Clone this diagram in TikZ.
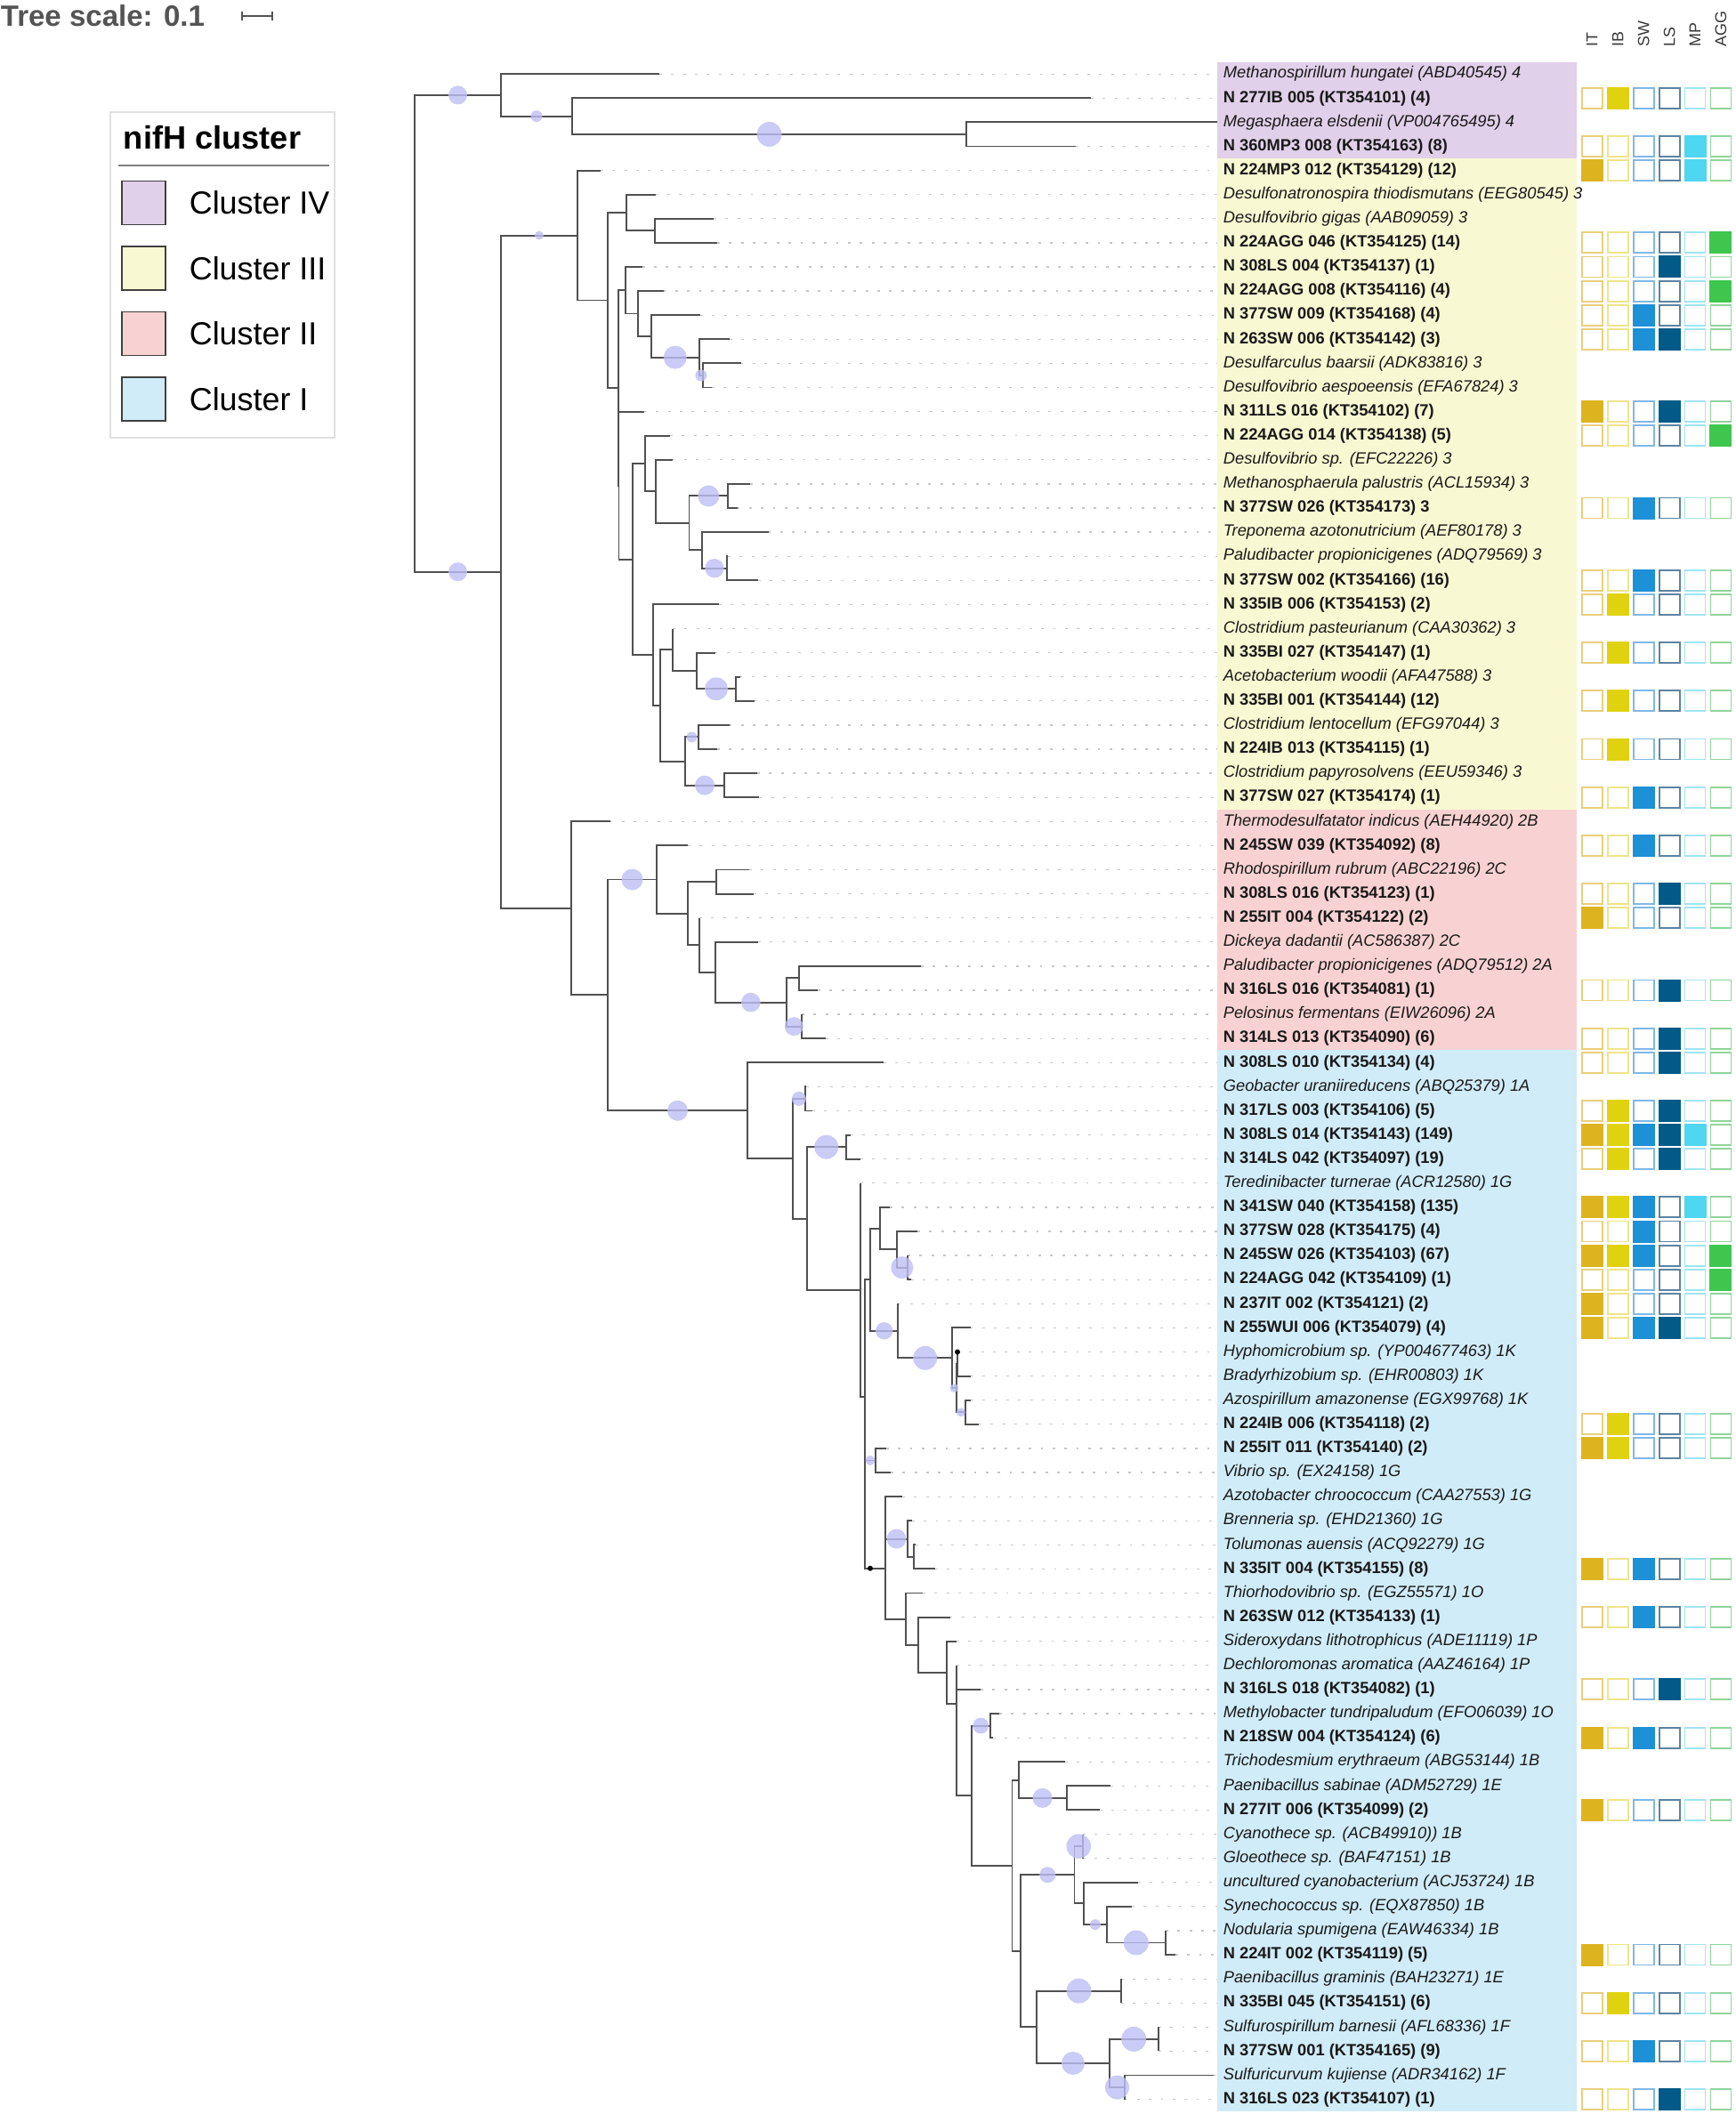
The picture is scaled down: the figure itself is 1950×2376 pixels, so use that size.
\documentclass[tikz,border=0pt]{standalone}
\usepackage{fontspec}
\setmainfont{Liberation Sans}
\usetikzlibrary{calc}
\definecolor{branchgray}{RGB}{80,80,80}
\definecolor{bubblecol}{RGB}{190,190,245}
\definecolor{c4}{RGB}{225,208,234}
\definecolor{c3}{RGB}{248,248,210}
\definecolor{c2}{RGB}{248,210,210}
\definecolor{c1}{RGB}{208,236,248}
\definecolor{hm1}{RGB}{221,180,31}
\definecolor{hm2}{RGB}{225,210,15}
\definecolor{hm3}{RGB}{29,144,214}
\definecolor{hm4}{RGB}{2,90,136}
\definecolor{hm5}{RGB}{79,214,240}
\definecolor{hm6}{RGB}{62,198,78}
\definecolor{hl1}{RGB}{233,207,122}
\definecolor{hl2}{RGB}{238,228,138}
\definecolor{hl3}{RGB}{127,184,230}
\definecolor{hl4}{RGB}{92,132,163}
\definecolor{hl5}{RGB}{159,228,242}
\definecolor{hl6}{RGB}{143,213,154}
\newcommand{\lf}{\fontsize{5.2}{6.2}\selectfont}
\newcommand{\leafy}[1]{83.2+(#1-1)*27.1}
\tikzset{every picture/.style={line width=0.5pt}}
\tikzstyle{branch}=[draw=branchgray,line width=0.55pt]
\tikzstyle{leader}=[draw=black!22,line width=0.35pt,dash pattern=on 0.8pt off 3pt]
\tikzstyle{bubble}=[fill=bubblecol,fill opacity=0.8]
\tikzstyle{lab}=[anchor=west,inner xsep=1.7pt,inner ysep=0pt,text=black!90]
\tikzstyle{rlab}=[lab,font=\lf\itshape]
\tikzstyle{elab}=[lab,font=\lf\bfseries]
\tikzstyle{hdr}=[anchor=west,rotate=90,inner sep=0pt,text=black!78,font=\fontsize{5.1}{6}\selectfont]
\tikzstyle{swatch}=[draw=black!75,line width=0.4pt,minimum size=0.49cm,inner sep=0pt]
\tikzstyle{leglab}=[anchor=west,inner sep=0pt,font=\fontsize{10.2}{12}\selectfont]
\newcommand{\hrow}[2]{%
  \foreach \v [count=\c] in {#2}{%
    \pgfmathsetmacro{\hx}{1789.2+(\c-1)*28.95}%
    \pgfmathsetmacro{\hy}{\leafy{#1}}%
    \ifnum\v=1
      \fill[fill=hm\c] (\hx-12.5,\hy-12.5) rectangle (\hx+12.5,\hy+12.5);
    \else
      \draw[draw=hl\c,line width=0.55pt] (\hx-11.5,\hy-11.5) rectangle (\hx+11.5,\hy+11.5);
    \fi}}
\newcommand{\rtip}[3]{%
  \coordinate (t#1) at (#2,{\leafy{#1}});
  \node[rlab] (l#1) at (1368,{\leafy{#1}}) {#3};
  \draw[leader] (t#1) -- (l#1.west);}
\newcommand{\etip}[4]{%
  \coordinate (t#1) at (#2,{\leafy{#1}});
  \node[elab] (l#1) at (1368,{\leafy{#1}}) {#3};
  \draw[leader] (t#1) -- (l#1.west);
  \hrow{#1}{#4}}
\newcommand{\clade}[4]{%
  \path (#3) -- (#4) coordinate[pos=0.5] (#1m);
  \coordinate (#1) at (#2,0 |- #1m);
  \draw[branch] (#3) -| (#1) |- (#4);}
\newcommand{\boot}[3]{\fill[bubble] ($(#1 |- #2)!0.5!(#2)$) circle[radius=#3*0.1mm];}

\begin{document}
\begin{tikzpicture}[x=0.01cm,y=-0.01cm]
\useasboundingbox (0,0) rectangle (1950,2376);
\fill[c4] (1368,69.65) rectangle (1772,178.05);
\fill[c3] (1368,178.05) rectangle (1772,909.75);
\fill[c2] (1368,909.75) rectangle (1772,1180.45);
\fill[c1] (1368,1180.45) rectangle (1772,2373);

\rtip{1}{741}{Methanospirillum hungatei (ABD40545) 4}
\etip{2}{1226}{N 277IB 005 (KT354101) (4)}{0,1,0,0,0,0}
\rtip{3}{1368}{Megasphaera elsdenii (VP004765495) 4}
\etip{4}{1209}{N 360MP3 008 (KT354163) (8)}{0,0,0,0,1,0}
\etip{5}{675}{N 224MP3 012 (KT354129) (12)}{1,0,0,0,1,0}
\rtip{6}{736.6}{Desulfonatronospira thiodismutans (EEG80545) 3}
\rtip{7}{802}{Desulfovibrio gigas (AAB09059) 3}
\etip{8}{806}{N 224AGG 046 (KT354125) (14)}{0,0,0,0,0,1}
\etip{9}{721.7}{N 308LS 004 (KT354137) (1)}{0,0,0,1,0,0}
\etip{10}{745.5}{N 224AGG 008 (KT354116) (4)}{0,0,0,0,0,1}
\etip{11}{787}{N 377SW 009 (KT354168) (4)}{0,0,1,0,0,0}
\etip{12}{820}{N 263SW 006 (KT354142) (3)}{0,0,1,1,0,0}
\rtip{13}{832.6}{Desulfarculus baarsii (ADK83816) 3}
\rtip{14}{800}{Desulfovibrio aespoeensis (EFA67824) 3}
\etip{15}{724}{N 311LS 016 (KT354102) (7)}{1,0,0,1,0,0}
\etip{16}{753}{N 224AGG 014 (KT354138) (5)}{0,0,0,0,0,1}
\rtip{17}{755.5}{Desulfovibrio sp. (EFC22226) 3}
\rtip{18}{843}{Methanosphaerula palustris (ACL15934) 3}
\etip{19}{828.5}{N 377SW 026 (KT354173) 3}{0,0,1,0,0,0}
\rtip{20}{863.5}{Treponema azotonutricium (AEF80178) 3}
\rtip{21}{818}{Paludibacter propionicigenes (ADQ79569) 3}
\etip{22}{852}{N 377SW 002 (KT354166) (16)}{0,0,1,0,0,0}
\etip{23}{807.7}{N 335IB 006 (KT354153) (2)}{0,1,0,0,0,0}
\rtip{24}{756}{Clostridium pasteurianum (CAA30362) 3}
\etip{25}{803.6}{N 335BI 027 (KT354147) (1)}{0,1,0,0,0,0}
\rtip{26}{831.5}{Acetobacterium woodii (AFA47588) 3}
\etip{27}{847.5}{N 335BI 001 (KT354144) (12)}{0,1,0,0,0,0}
\rtip{28}{819.6}{Clostridium lentocellum (EFG97044) 3}
\etip{29}{806}{N 224IB 013 (KT354115) (1)}{0,1,0,0,0,0}
\rtip{30}{851}{Clostridium papyrosolvens (EEU59346) 3}
\etip{31}{853.4}{N 377SW 027 (KT354174) (1)}{0,0,1,0,0,0}
\rtip{32}{685.5}{Thermodesulfatator indicus (AEH44920) 2B}
\etip{33}{773}{N 245SW 039 (KT354092) (8)}{0,0,1,0,0,0}
\rtip{34}{842}{Rhodospirillum rubrum (ABC22196) 2C}
\etip{35}{847}{N 308LS 016 (KT354123) (1)}{0,0,0,1,0,0}
\etip{36}{786}{N 255IT 004 (KT354122) (2)}{1,0,0,0,0,0}
\rtip{37}{852}{Dickeya dadantii (AC586387) 2C}
\rtip{38}{1035}{Paludibacter propionicigenes (ADQ79512) 2A}
\etip{39}{919}{N 316LS 016 (KT354081) (1)}{0,0,0,1,0,0}
\rtip{40}{901}{Pelosinus fermentans (EIW26096) 2A}
\etip{41}{928}{N 314LS 013 (KT354090) (6)}{0,0,0,1,0,0}
\etip{42}{993}{N 308LS 010 (KT354134) (4)}{0,0,0,1,0,0}
\rtip{43}{906}{Geobacter uraniireducens (ABQ25379) 1A}
\etip{44}{913}{N 317LS 003 (KT354106) (5)}{0,1,0,1,0,0}
\etip{45}{956}{N 308LS 014 (KT354143) (149)}{1,1,1,1,1,0}
\etip{46}{966.7}{N 314LS 042 (KT354097) (19)}{0,1,0,1,0,0}
\rtip{47}{966.7}{Teredinibacter turnerae (ACR12580) 1G}
\etip{48}{1000}{N 341SW 040 (KT354158) (135)}{1,1,1,0,1,0}
\etip{49}{1031}{N 377SW 028 (KT354175) (4)}{0,0,1,0,0,0}
\etip{50}{1020}{N 245SW 026 (KT354103) (67)}{1,1,1,0,0,1}
\etip{51}{1024}{N 224AGG 042 (KT354109) (1)}{0,0,0,0,0,1}
\etip{52}{1009.4}{N 237IT 002 (KT354121) (2)}{1,0,0,0,0,0}
\etip{53}{1090.6}{N 255WUI 006 (KT354079) (4)}{1,0,1,1,0,0}
\rtip{54}{1076}{Hyphomicrobium sp. (YP004677463) 1K}
\rtip{55}{1091}{Bradyrhizobium sp. (EHR00803) 1K}
\rtip{56}{1091}{Azospirillum amazonense (EGX99768) 1K}
\etip{57}{1100}{N 224IB 006 (KT354118) (2)}{0,1,0,0,0,0}
\etip{58}{995.8}{N 255IT 011 (KT354140) (2)}{1,1,0,0,0,0}
\rtip{59}{1001}{Vibrio sp. (EX24158) 1G}
\rtip{60}{1014}{Azotobacter chroococcum (CAA27553) 1G}
\rtip{61}{1024.9}{Brenneria sp. (EHD21360) 1G}
\rtip{62}{1029}{Tolumonas auensis (ACQ92279) 1G}
\etip{63}{1051}{N 335IT 004 (KT354155) (8)}{1,0,1,0,0,0}
\rtip{64}{1037}{Thiorhodovibrio sp. (EGZ55571) 1O}
\etip{65}{1067.5}{N 263SW 012 (KT354133) (1)}{0,0,1,0,0,0}
\rtip{66}{1074.7}{Sideroxydans lithotrophicus (ADE11119) 1P}
\rtip{67}{1074.7}{Dechloromonas aromatica (AAZ46164) 1P}
\etip{68}{1102}{N 316LS 018 (KT354082) (1)}{0,0,0,1,0,0}
\rtip{69}{1123}{Methylobacter tundripaludum (EFO06039) 1O}
\etip{70}{1116}{N 218SW 004 (KT354124) (6)}{1,0,1,0,0,0}
\rtip{71}{1197}{Trichodesmium erythraeum (ABG53144) 1B}
\rtip{72}{1247.8}{Paenibacillus sabinae (ADM52729) 1E}
\etip{73}{1236}{N 277IT 006 (KT354099) (2)}{1,0,0,0,0,0}
\rtip{74}{1217}{Cyanothece sp. (ACB49910)) 1B}
\rtip{75}{1217}{Gloeothece sp. (BAF47151) 1B}
\rtip{76}{1278.7}{uncultured cyanobacterium (ACJ53724) 1B}
\rtip{77}{1272}{Synechococcus sp. (EQX87850) 1B}
\rtip{78}{1310}{Nodularia spumigena (EAW46334) 1B}
\etip{79}{1320.8}{N 224IT 002 (KT354119) (5)}{1,0,0,0,0,0}
\rtip{80}{1259.7}{Paenibacillus graminis (BAH23271) 1E}
\etip{81}{1259.7}{N 335BI 045 (KT354151) (6)}{0,1,0,0,0,0}
\rtip{82}{1301.8}{Sulfurospirillum barnesii (AFL68336) 1F}
\etip{83}{1301.8}{N 377SW 001 (KT354165) (9)}{0,0,1,0,0,0}
\rtip{84}{1364}{Sulfuricurvum kujiense (ADR34162) 1F}
\etip{85}{1264.4}{N 316LS 023 (KT354107) (1)}{0,0,0,1,0,0}

\clade{A3}{1086}{t3}{t4}
\clade{A2}{643}{t2}{A3}
\clade{A}{563}{t1}{A2}
\clade{C1a}{736}{t7}{t8}
\clade{C1}{704}{t6}{C1a}
\clade{C3d}{790}{t13}{t14}
\clade{C3c}{785.8}{t12}{C3d}
\clade{C3b}{731.8}{t11}{C3c}
\clade{C3a}{717}{t10}{C3b}
\clade{C3}{702.7}{t9}{C3a}
\clade{C6c}{818}{t18}{t19}
\clade{C6e}{817}{t21}{t22}
\clade{C6d}{789}{t20}{C6e}
\clade{C6b}{774.5}{C6c}{C6d}
\clade{C6a}{737}{t17}{C6b}
\clade{C6}{724.7}{t16}{C6a}
\clade{C9b}{827}{t26}{t27}
\clade{C9a}{783}{t25}{C9b}
\clade{C9}{756}{t24}{C9a}
\clade{C11}{785}{t28}{t29}
\clade{C12}{814}{t30}{t31}
\clade{C10}{770}{C11}{C12}
\clade{C8}{742}{C9}{C10}
\clade{C7}{734}{t23}{C8}
\clade{C5}{711}{C6}{C7}
\clade{C4}{695.5}{t15}{C5}
\clade{C2}{695}{C3}{C4}
\clade{B1b}{683}{C1}{C2}
\clade{B1}{648.8}{t5}{B1b}
\clade{E2}{804.8}{t34}{t35}
\clade{E6}{898}{t38}{t39}
\clade{E7}{901}{t40}{t41}
\clade{E5}{883.6}{E6}{E7}
\clade{E4}{804}{t37}{E5}
\clade{E3}{786}{t36}{E4}
\clade{E1}{773}{E2}{E3}
\clade{E}{738}{t33}{E1}
\clade{F2}{905}{t43}{t44}
\clade{F4}{950.7}{t45}{t46}
\clade{H3}{1020}{t50}{t51}
\clade{H2}{1007.6}{t49}{H3}
\clade{H1}{988.6}{t48}{H2}
\clade{H6b}{1076}{t54}{t55}
\clade{H7}{1084.7}{t56}{t57}
\clade{H6}{1075}{H6b}{H7}
\clade{H5}{1070}{t53}{H6}
\clade{H4}{1009.4}{t52}{H5}
\clade{F7}{978}{H1}{H4}
\clade{I1}{984}{t58}{t59}
\clade{J3}{1027}{t62}{t63}
\clade{J2}{1020}{t61}{J3}
\clade{J1}{995}{t60}{J2}
\clade{K7}{1112.6}{t69}{t70}
\clade{L1b}{1198.6}{t72}{t73}
\clade{L1}{1144.6}{t71}{L1b}
\clade{M1a}{1217}{t74}{t75}
\clade{M1d}{1310}{t78}{t79}
\clade{M1c}{1243.7}{t77}{M1d}
\clade{M1b}{1218}{t76}{M1c}
\clade{M1}{1207.5}{M1a}{M1b}
\clade{M2a}{1259.7}{t80}{t81}
\clade{M2c}{1301.8}{t82}{t83}
\clade{M2d}{1264.4}{t84}{t85}
\clade{M2b}{1246.6}{M2c}{M2d}
\clade{M2}{1165.4}{M2a}{M2b}
\clade{L2}{1147}{M1}{M2}
\clade{K8}{1137.5}{L1}{L2}
\clade{K6}{1091.8}{K7}{K8}
\clade{K5b}{1074.7}{t68}{K6}
\clade{K5}{1074.7}{t67}{K5b}
\clade{K4}{1064}{t66}{K5}
\clade{K3}{1032}{t65}{K4}
\clade{K2}{1018}{t64}{K3}
\clade{K}{995}{J1}{K2}
\clade{F6a}{972}{I1}{K}
\clade{F6}{972}{F7}{F6a}
\clade{F5}{966.7}{t47}{F6}
\clade{F3}{906.8}{F4}{F5}
\clade{F1}{890.8}{F2}{F3}
\clade{F}{840}{t42}{F1}
\clade{D}{683}{E}{F}
\clade{B2}{642}{t32}{D}
\clade{B}{563}{B1}{B2}
\clade{R}{466}{A}{B}

\boot{R}{A}{10.5}
\boot{R}{B}{10.5}
\boot{A}{A2}{6.5}
\boot{A2}{A3}{14}
\boot{B}{B1}{5}
\boot{C3b}{C3c}{13}
\boot{C3c}{C3d}{6.5}
\boot{C6b}{C6c}{12}
\boot{C6d}{C6e}{10.7}
\boot{C9a}{C9b}{13}
\boot{C10}{C11}{6}
\boot{C10}{C12}{11}
\boot{D}{E}{12}
\boot{E4}{E5}{10.8}
\boot{E5}{E7}{10.5}
\boot{D}{F}{11.5}
\boot{F1}{F2}{8}
\boot{F3}{F4}{13.5}
\boot{H2}{H3}{12.5}
\boot{F7}{H4}{9.7}
\boot{H4}{H5}{13.5}
\boot{H5}{H6}{4.8}
\boot{H6}{H7}{5}
\boot{F6a}{I1}{5.5}
\boot{J1}{J2}{11}
\boot{K6}{K7}{9}
\boot{L1}{L1b}{11}
\boot{L2}{M1}{9}
\boot{M1}{M1a}{13.8}
\boot{M1b}{M1c}{6}
\boot{M1c}{M1d}{14}
\boot{M2}{M2a}{14}
\boot{M2}{M2b}{13}
\boot{M2b}{M2c}{14}
\boot{M2b}{M2d}{13.5}
\fill[black] (t54) circle[radius=0.3mm];
\fill[black] (978,0 |- K) circle[radius=0.3mm];

\foreach \h [count=\c] in {IT,IB,SW,LS,MP,AGG}
  \node[hdr] (h\c) at ({1789.2+(\c-1)*28.95},53) {\h};

\node[anchor=west,inner sep=0pt,text=black!67,font=\fontsize{9.4}{11}\selectfont\bfseries] (tscale) at (0,18) {Tree scale: 0.1};
\coordinate (sb1) at (272,18);
\coordinate (sb2) at (306,18);
\draw[black!67,line width=0.4pt] (sb1) -- (sb2);
\draw[black!67,line width=0.4pt] ($(sb1)+(0,-5)$) -- ($(sb1)+(0,5)$);
\draw[black!67,line width=0.4pt] ($(sb2)+(0,-5)$) -- ($(sb2)+(0,5)$);

\draw[draw=black!12,line width=0.4pt] (124,126) rectangle (376,492);
\node[anchor=base west,inner sep=0pt,font=\fontsize{10.3}{12}\selectfont\bfseries] (ltitle) at (138,168) {nifH cluster};
\coordinate (ls1) at (133,186);
\coordinate (ls2) at (370,186);
\draw[black!50,line width=0.5pt] (ls1) -- (ls2);
\foreach \n/\cl [count=\i] in {IV/c4,III/c3,II/c2,I/c1}{
  \node[swatch,fill=\cl] (s\i) at (161.5,{228+(\i-1)*73.5}) {};
  \node[leglab] (g\i) at (212,{228+(\i-1)*73.5}) {Cluster \n};}
\end{tikzpicture}
\end{document}
